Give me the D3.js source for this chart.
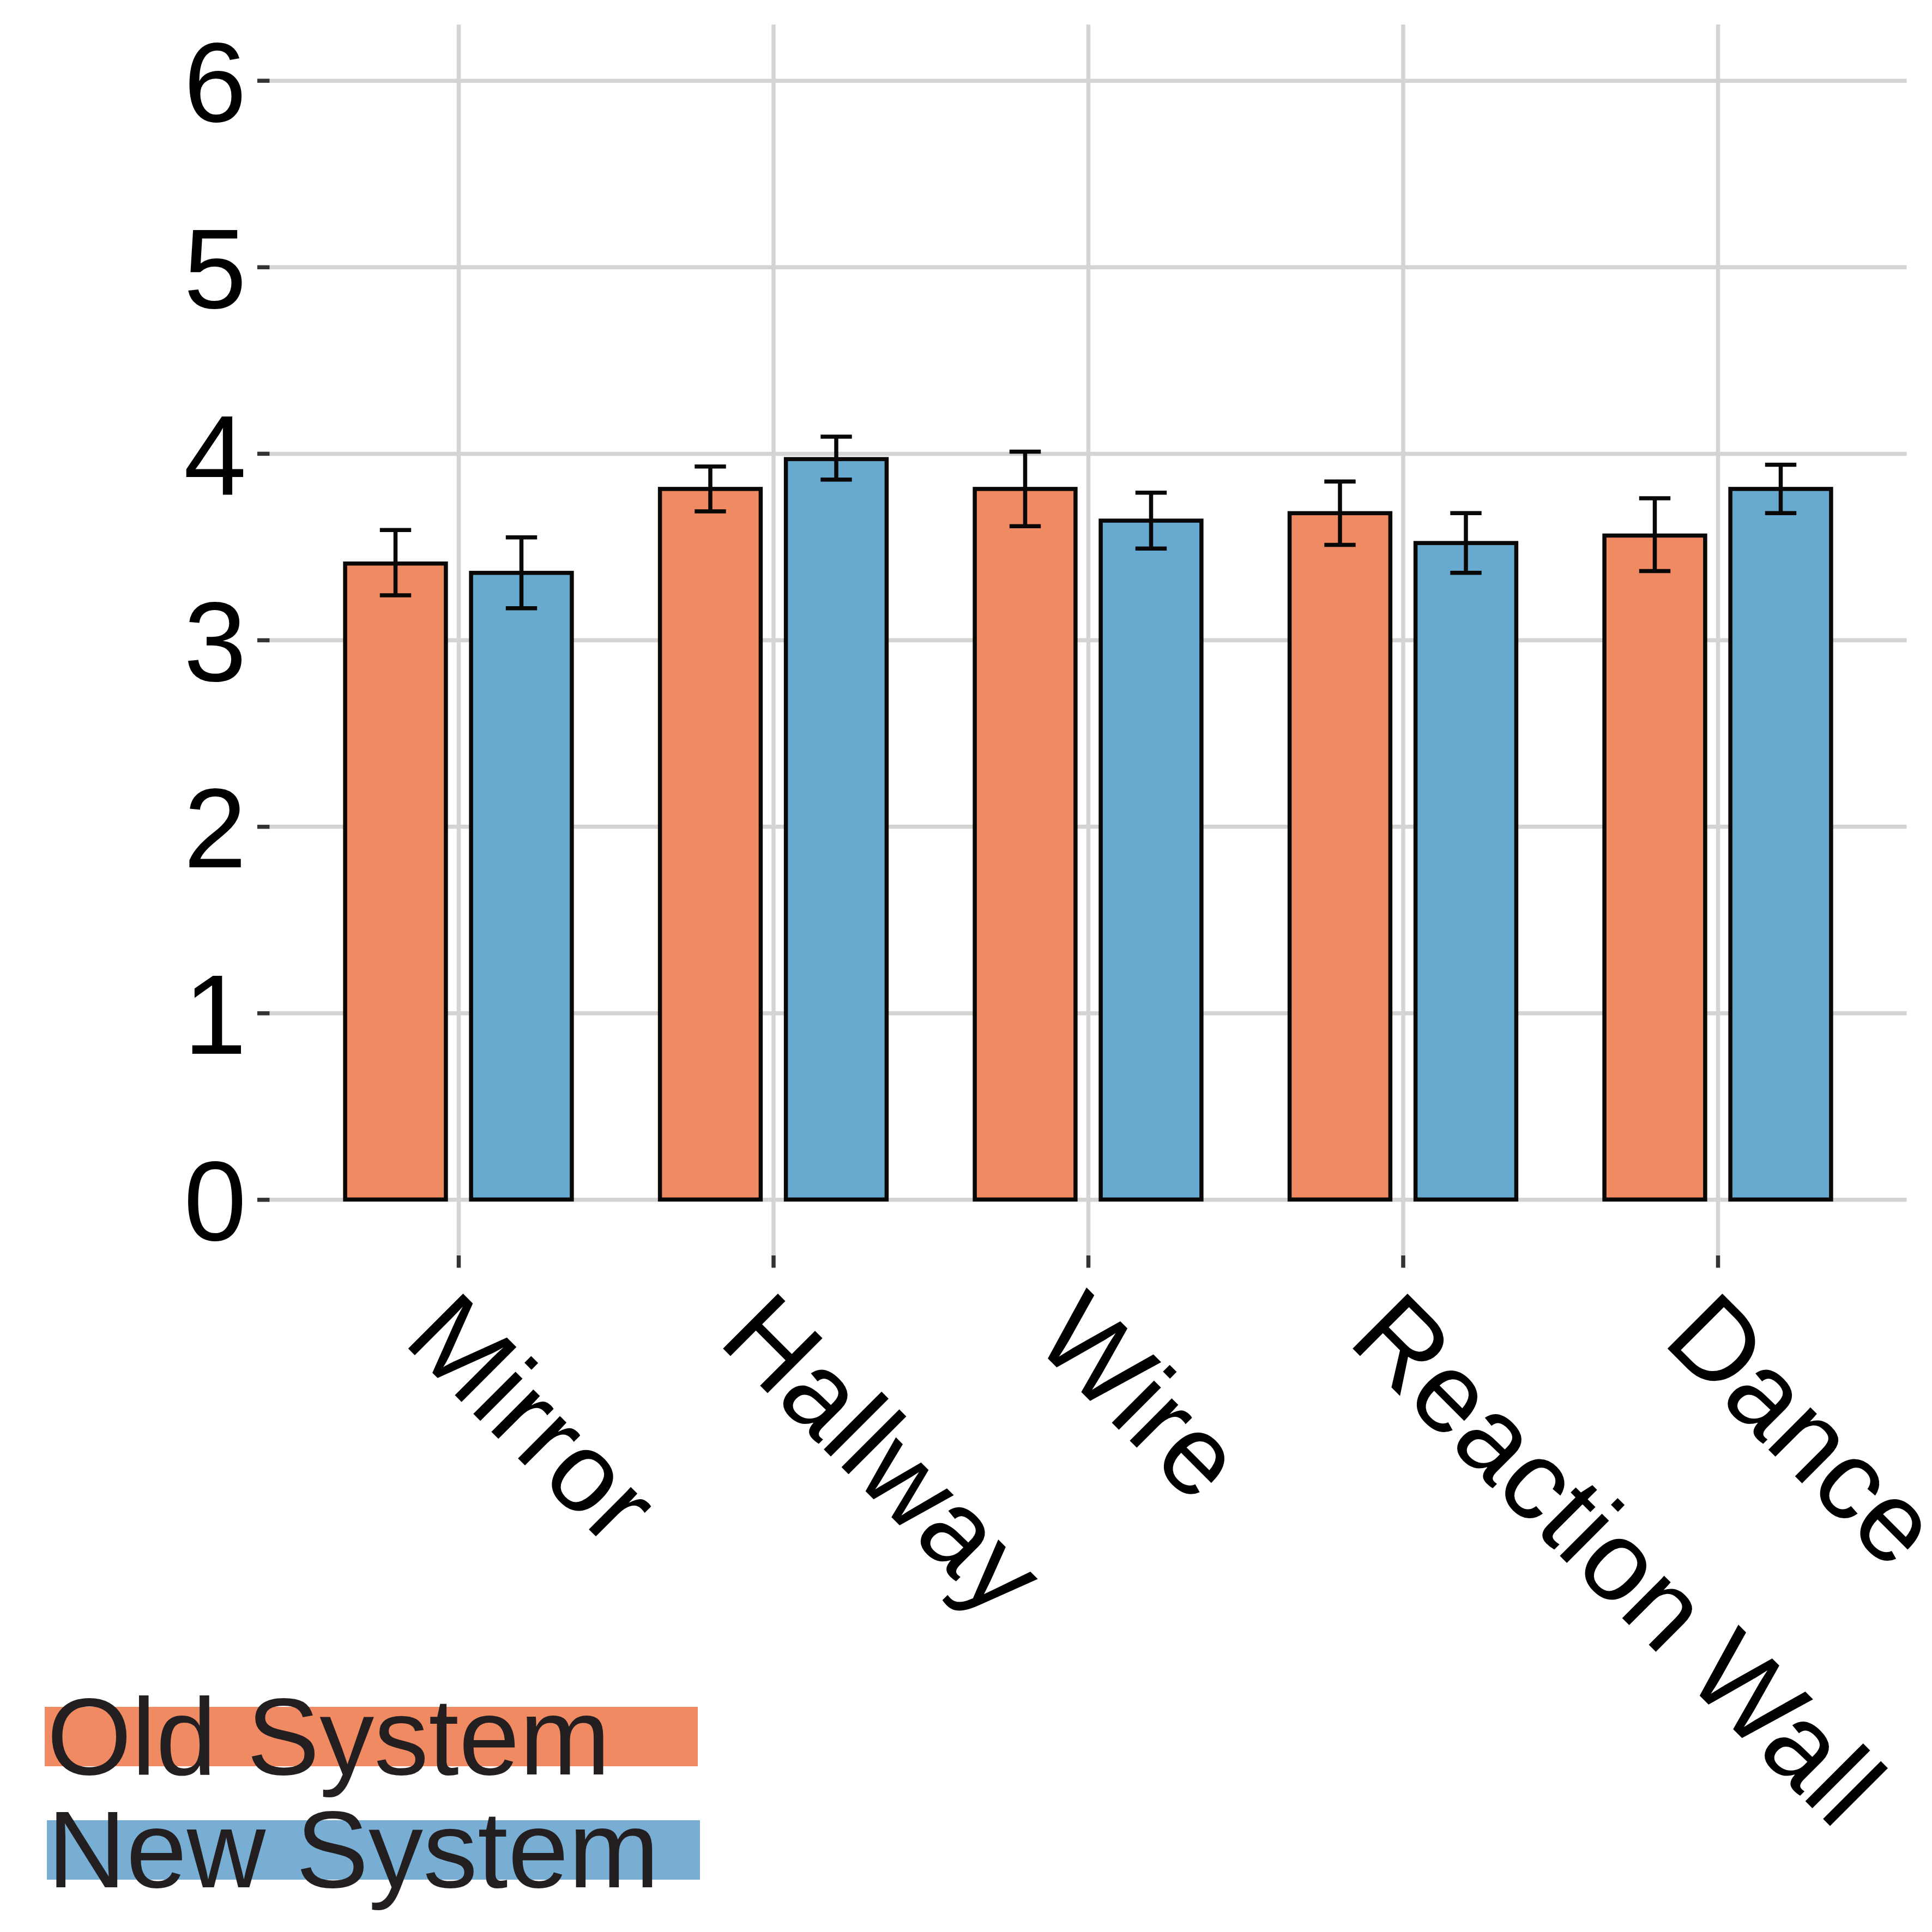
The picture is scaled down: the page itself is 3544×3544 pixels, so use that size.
<!DOCTYPE html>
<html>
<head>
<meta charset="utf-8">
<script src="https://cdn.jsdelivr.net/npm/d3@7"></script>
<style>
  body { margin: 0; background: #fff; }
  svg { display: block; }
</style>
</head>
<body>
<div id="chart"></div>
<script>
const categories = ["Mirror", "Hallway", "Wire", "Reaction Wall", "Dance"];
const series = ["Old System", "New System"];

const oldMean = [3.41, 3.81, 3.81, 3.68, 3.56];
const oldLow  = [3.24, 3.69, 3.61, 3.51, 3.37];
const oldHigh = [3.59, 3.93, 4.01, 3.85, 3.76];

const newMean = [3.36, 3.97, 3.64, 3.52, 3.81];
const newLow  = [3.17, 3.86, 3.49, 3.36, 3.68];
const newHigh = [3.55, 4.09, 3.79, 3.68, 3.94];

const yTicks = [0, 1, 2, 3, 4, 5, 6];

let width = 3544,
    height = 3544,
    fontFamily = "'Liberation Sans', Arial, sans-serif",
    axisFont = 207,
    gridColor = "#d4d4d2",
    tickColor = "#333333",
    lineW = 7.5;

const colors = { "Old System": "#EF8A62", "New System": "#67A9CF" };
const legendColors = { "Old System": "#F08A63", "New System": "#78AED3" };

const panel = { left: 494.5, right: 3497.5, top: 45, bottom: 2303 };

const x = d3.scalePoint()
    .domain(categories)
    .range([panel.left, panel.right])
    .padding(0.6);

const step = x.step();

const xSub = d3.scaleBand()
    .domain(series)
    .range([-0.4 * step, 0.4 * step])
    .paddingInner(0.2)
    .paddingOuter(0.1);

const y = d3.scaleLinear()
    .domain([-0.3, 6.3])
    .range([panel.bottom, panel.top]);

const rows = [];
categories.forEach((c, i) => {
    rows.push({ cat: c, s: "Old System", mean: oldMean[i], low: oldLow[i], high: oldHigh[i] });
    rows.push({ cat: c, s: "New System", mean: newMean[i], low: newLow[i], high: newHigh[i] });
});

const svg = d3.select("#chart").append("svg")
    .attr("width", width)
    .attr("height", height)
    .style("font-family", fontFamily);

svg.append("rect").attr("width", width).attr("height", height).attr("fill", "#fff");

// grid lines
const gridY = svg.append("g")
    .attr("transform", `translate(${panel.left},0)`)
    .call(d3.axisLeft(y).tickValues(yTicks).tickSize(-(panel.right - panel.left)).tickFormat(""));
gridY.select(".domain").remove();
gridY.selectAll("line").attr("stroke", gridColor).attr("stroke-width", lineW);

const gridX = svg.append("g")
    .attr("transform", `translate(0,${panel.bottom})`)
    .call(d3.axisBottom(x).tickSize(-(panel.bottom - panel.top)).tickFormat(""));
gridX.select(".domain").remove();
gridX.selectAll("line").attr("stroke", gridColor).attr("stroke-width", lineW);

// y axis
const yAxis = svg.append("g")
    .attr("transform", `translate(${panel.left},0)`)
    .call(d3.axisLeft(y).tickValues(yTicks).tickSize(22.5).tickPadding(20).tickFormat(d3.format("d")));
yAxis.select(".domain").remove();
yAxis.selectAll("line").attr("stroke", tickColor).attr("stroke-width", lineW);
yAxis.selectAll("text")
    .attr("font-size", axisFont)
    .attr("font-family", fontFamily)
    .attr("fill", "#000")
    .attr("dy", "0.36em");

// x axis
const xAxis = svg.append("g")
    .attr("transform", `translate(0,${panel.bottom})`)
    .call(d3.axisBottom(x).tickSize(22.5));
xAxis.select(".domain").remove();
xAxis.selectAll("line").attr("stroke", tickColor).attr("stroke-width", lineW);
xAxis.selectAll("text")
    .attr("font-size", axisFont)
    .attr("font-family", fontFamily)
    .attr("fill", "#000")
    .attr("text-anchor", "start")
    .attr("x", 0)
    .attr("y", axisFont * 0.716)
    .attr("dy", null)
    .attr("transform", "translate(0,54) rotate(45)");

// bars
svg.append("g")
    .selectAll("rect")
    .data(rows)
    .enter()
    .append("rect")
    .attr("x", d => x(d.cat) + xSub(d.s))
    .attr("width", xSub.bandwidth())
    .attr("y", d => y(d.mean))
    .attr("height", d => y(0) - y(d.mean))
    .attr("fill", d => colors[d.s])
    .attr("stroke", "#0a0806")
    .attr("stroke-width", lineW);

// error bars
const capHalf = 28.7;
const err = svg.append("g")
    .attr("stroke", "#0a0806")
    .attr("stroke-width", lineW)
    .selectAll("g")
    .data(rows)
    .enter()
    .append("g")
    .attr("transform", d => `translate(${x(d.cat) + xSub(d.s) + xSub.bandwidth() / 2},0)`);

err.append("line")
    .attr("y1", d => y(d.low))
    .attr("y2", d => y(d.high));
err.append("line")
    .attr("x1", -capHalf).attr("x2", capHalf)
    .attr("y1", d => y(d.high)).attr("y2", d => y(d.high));
err.append("line")
    .attr("x1", -capHalf).attr("x2", capHalf)
    .attr("y1", d => y(d.low)).attr("y2", d => y(d.low));

// legend
const legendPos = [
    { x: 82, y: 3131, tx: 86, ty: 3255 },
    { x: 86, y: 3339, tx: 87, ty: 3462 }
];

const legend = svg.append("g")
    .selectAll("g")
    .data(series)
    .enter()
    .append("g");

legend.append("rect")
    .attr("x", (d, i) => legendPos[i].x)
    .attr("y", (d, i) => legendPos[i].y)
    .attr("width", 1198)
    .attr("height", 109)
    .attr("fill", d => legendColors[d]);

legend.append("text")
    .attr("x", (d, i) => legendPos[i].tx)
    .attr("y", (d, i) => legendPos[i].ty)
    .attr("font-size", 200)
    .attr("fill", "#231f20")
    .text(d => d);
</script>
</body>
</html>
